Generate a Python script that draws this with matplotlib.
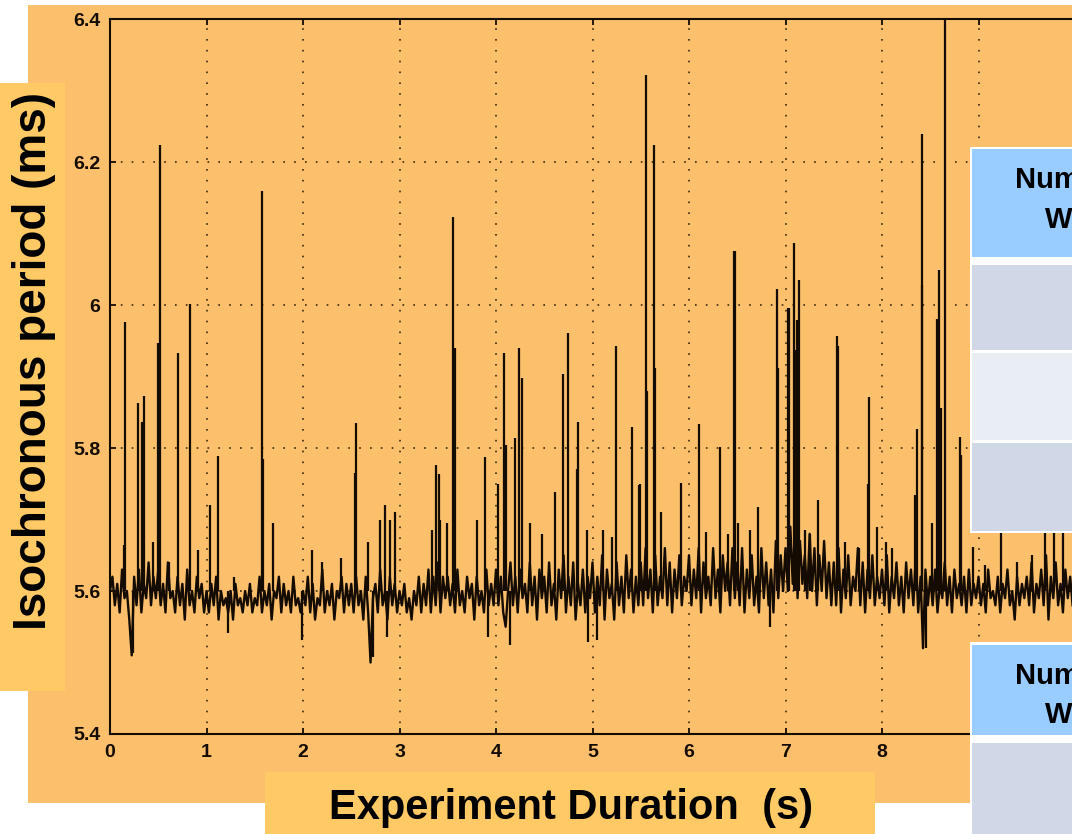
import numpy as np
import matplotlib.pyplot as plt
from matplotlib.patches import Rectangle

plt.rcParams['font.family'] = ['Liberation Sans', 'DejaVu Sans']

# isochronous period baseline, one sample every 25 ms (0 .. 9.975 s)
base_step = 0.025
base_ms = [
    5.60, 5.62, 5.58, 5.61, 5.57, 5.63, 5.59, 5.60, 5.56, 5.51, 5.62, 5.58, 5.63, 5.57, 5.61, 5.59, 5.64, 5.58, 5.62, 5.59,
    5.63, 5.58, 5.61, 5.57, 5.64, 5.59, 5.60, 5.57, 5.62, 5.58, 5.61, 5.56, 5.63, 5.58, 5.60, 5.57, 5.62, 5.59, 5.61, 5.57,
    5.60, 5.57, 5.61, 5.58, 5.62, 5.56, 5.60, 5.58, 5.59, 5.57, 5.60, 5.56, 5.61, 5.58, 5.59, 5.57, 5.60, 5.58, 5.61, 5.57,
    5.59, 5.58, 5.62, 5.57, 5.60, 5.58, 5.61, 5.56, 5.60, 5.59, 5.62, 5.57, 5.61, 5.58, 5.60, 5.57, 5.62, 5.58, 5.59, 5.57,
    5.60, 5.58, 5.62, 5.57, 5.61, 5.56, 5.59, 5.58, 5.63, 5.57, 5.60, 5.58, 5.61, 5.56, 5.60, 5.59, 5.62, 5.57, 5.61, 5.58,
    5.61, 5.57, 5.62, 5.58, 5.60, 5.56, 5.62, 5.57, 5.50, 5.59, 5.61, 5.57, 5.63, 5.58, 5.60, 5.56, 5.62, 5.58, 5.61, 5.57,
    5.60, 5.58, 5.61, 5.57, 5.59, 5.56, 5.60, 5.58, 5.62, 5.57, 5.61, 5.58, 5.63, 5.57, 5.62, 5.58, 5.64, 5.57, 5.62, 5.59,
    5.62, 5.58, 5.61, 5.57, 5.63, 5.58, 5.60, 5.57, 5.62, 5.59, 5.61, 5.56, 5.62, 5.58, 5.60, 5.57, 5.63, 5.58, 5.61, 5.58,
    5.63, 5.58, 5.62, 5.57, 5.55, 5.60, 5.64, 5.58, 5.62, 5.57, 5.63, 5.59, 5.61, 5.57, 5.64, 5.58, 5.62, 5.56, 5.63, 5.59,
    5.62, 5.57, 5.64, 5.58, 5.61, 5.56, 5.63, 5.59, 5.65, 5.57, 5.62, 5.58, 5.64, 5.56, 5.61, 5.58, 5.63, 5.57, 5.62, 5.59,
    5.64, 5.57, 5.62, 5.58, 5.65, 5.56, 5.63, 5.59, 5.61, 5.56, 5.64, 5.58, 5.62, 5.57, 5.65, 5.59, 5.63, 5.57, 5.62, 5.58,
    5.64, 5.58, 5.66, 5.59, 5.63, 5.57, 5.65, 5.58, 5.62, 5.59, 5.66, 5.58, 5.64, 5.57, 5.63, 5.59, 5.65, 5.58, 5.62, 5.60,
    5.65, 5.58, 5.63, 5.59, 5.66, 5.57, 5.64, 5.59, 5.62, 5.58, 5.66, 5.59, 5.63, 5.57, 5.65, 5.60, 5.64, 5.58, 5.66, 5.59,
    5.64, 5.58, 5.66, 5.57, 5.63, 5.59, 5.65, 5.58, 5.62, 5.57, 5.66, 5.59, 5.64, 5.58, 5.63, 5.57, 5.67, 5.59, 5.65, 5.60,
    5.66, 5.60, 5.69, 5.61, 5.70, 5.59, 5.67, 5.61, 5.65, 5.59, 5.68, 5.60, 5.66, 5.58, 5.65, 5.60, 5.67, 5.59, 5.64, 5.58,
    5.64, 5.58, 5.66, 5.57, 5.63, 5.59, 5.65, 5.58, 5.62, 5.60, 5.66, 5.58, 5.64, 5.57, 5.63, 5.59, 5.65, 5.58, 5.62, 5.59,
    5.63, 5.58, 5.65, 5.57, 5.62, 5.59, 5.64, 5.58, 5.62, 5.57, 5.64, 5.59, 5.63, 5.58, 5.65, 5.57, 5.62, 5.52, 5.63, 5.58,
    5.62, 5.58, 5.63, 5.57, 5.61, 5.59, 5.64, 5.58, 5.62, 5.57, 5.63, 5.59, 5.61, 5.58, 5.62, 5.57, 5.63, 5.58, 5.61, 5.59,
    5.62, 5.58, 5.61, 5.57, 5.63, 5.59, 5.60, 5.58, 5.62, 5.57, 5.61, 5.59, 5.63, 5.58, 5.60, 5.56, 5.62, 5.58, 5.61, 5.59,
    5.62, 5.58, 5.64, 5.57, 5.61, 5.59, 5.63, 5.58, 5.65, 5.56, 5.62, 5.59, 5.64, 5.58, 5.61, 5.57, 5.63, 5.59, 5.62, 5.58,
]

# upward spikes: time (s) and peak period (ms)
spike_t = [0.14, 0.155, 0.29, 0.335, 0.355, 0.45, 0.50, 0.518, 0.61, 0.708, 0.829, 0.91,
           1.036, 1.116, 1.28, 1.579, 1.59, 1.69, 2.09, 2.20, 2.39, 2.54, 2.549, 2.67,
           2.80, 2.85, 2.90, 2.95, 3.34, 3.375, 3.41, 3.42, 3.49, 3.558, 3.57, 3.80,
           3.886, 4.02, 4.083, 4.10, 4.197, 4.238, 4.273, 4.35, 4.48, 4.61, 4.69, 4.75,
           4.84, 4.853, 4.94, 5.11, 5.20, 5.24, 5.406, 5.48, 5.49, 5.554, 5.56, 5.637,
           5.65, 5.71, 5.914, 6.104, 6.18, 6.321, 6.40, 6.466, 6.472, 6.51, 6.63, 6.72,
           6.909, 6.92, 7.029, 7.035, 7.088, 7.10, 7.105, 7.12, 7.143, 7.20, 7.25, 7.34,
           7.537, 7.545, 7.62, 7.76, 7.85, 7.869, 7.95, 8.04, 8.10, 8.34, 8.359, 8.41,
           8.418, 8.52, 8.573, 8.594, 8.615, 8.653, 8.808, 8.815, 8.94, 9.07, 9.23, 9.40,
           9.55, 9.69, 9.78, 9.88]
spike_v = [5.664, 5.976, 5.863, 5.837, 5.873, 5.668, 5.947, 6.224, 5.64, 5.933, 6.001, 5.657,
           5.72, 5.789, 5.62, 6.159, 5.785, 5.695, 5.657, 5.64, 5.646, 5.765, 5.835, 5.668,
           5.70, 5.72, 5.70, 5.71, 5.685, 5.776, 5.764, 5.70, 5.695, 6.123, 5.94, 5.70,
           5.787, 5.75, 5.933, 5.804, 5.814, 5.940, 5.898, 5.695, 5.68, 5.738, 5.903, 5.961,
           5.77, 5.836, 5.685, 5.685, 5.676, 5.943, 5.829, 5.748, 5.75, 6.322, 5.88, 6.224,
           5.912, 5.71, 5.751, 5.834, 5.683, 5.802, 5.68, 6.076, 6.076, 5.695, 5.685, 5.717,
           6.022, 5.912, 5.996, 5.996, 6.087, 5.937, 5.937, 5.979, 6.035, 5.685, 5.68, 5.727,
           5.956, 5.943, 5.668, 5.66, 5.75, 5.872, 5.69, 5.668, 5.66, 5.734, 5.827, 6.028,
           6.239, 5.695, 5.98, 6.049, 5.856, 6.45, 5.816, 5.79, 5.662, 5.636, 5.75, 5.64,
           5.65, 5.85, 5.85, 5.85]
spike_base = 5.60

# downward dips: time (s) and lowest period (ms)
dip_t = [0.24, 1.22, 1.99, 2.73, 2.87, 3.92, 4.15, 4.95, 5.05, 6.84, 8.46]
dip_v = [5.513, 5.541, 5.532, 5.508, 5.536, 5.536, 5.525, 5.529, 5.531, 5.55, 5.52]

xticks = list(range(0, 10))
yticks = [5.4, 5.6, 5.8, 6.0, 6.2, 6.4]
ytick_labels = ['5.4', '5.6', '5.8', '6', '6.2', '6.4']

W, H = 1072, 834
orange = '#fcc06c'
label_bg = '#ffc965'
ink = '#140b02'

fig = plt.figure(figsize=(W / 100, H / 100), dpi=100, facecolor='white')


def box(x0, y0, x1, y1, color, z):
    # rectangle given in picture pixels (origin top-left)
    r = Rectangle((x0 / W, 1 - y1 / H), (x1 - x0) / W, (y1 - y0) / H,
                  transform=fig.transFigure, facecolor=color, edgecolor='none', zorder=z)
    fig.add_artist(r)


# slide background and label boxes
box(28, 5, 1072, 803, orange, -5)
box(0, 83, 65, 691, label_bg, -4)
box(265, 772, 875, 834, label_bg, -4)

ax = fig.add_axes([110 / W, 1 - 734 / H, 965 / W, 715 / H])
ax.set_facecolor('none')

base_t = np.arange(len(base_ms)) * base_step
ax.plot(base_t, base_ms, color=ink, lw=1.7)
ax.vlines(spike_t, spike_base, spike_v, color=ink, lw=1.6)
ax.vlines(dip_t, dip_v, spike_base, color=ink, lw=1.6)

ax.set_xlim(0, 10)
ax.set_ylim(5.4, 6.4)
ax.set_xticks(xticks)
ax.set_yticks(yticks)
ax.set_yticklabels(ytick_labels)
ax.grid(True, color='#3a2810', linestyle=(0, (1, 5.5)), lw=1.2)
ax.tick_params(direction='in', length=4, width=1.3, color=ink, top=True, right=True,
               labelsize=14, labelcolor=ink, pad=7)
for lab in ax.get_xticklabels() + ax.get_yticklabels():
    lab.set_fontweight('bold')
for sp in ax.spines.values():
    sp.set_color(ink)
    sp.set_linewidth(1.5)

fig.text(571 / W, 1 - 808 / H, 'Experiment Duration  (s)', ha='center', va='center',
         fontsize=30, fontweight='bold', color='black')
fig.text(34 / W, 1 - 361 / H, 'Isochronous period (ms)', rotation=90, ha='center',
         va='center', fontsize=33, fontweight='bold', color='black')

# tables on the right edge of the slide (cut off by the picture edge)
box(970, 147, 1072, 533, 'white', 10)
box(972, 149, 1072, 257, '#99ccff', 11)
box(972, 265, 1072, 350, '#d0d8e8', 11)
box(972, 353, 1072, 440, '#e9edf4', 11)
box(972, 443, 1072, 531, '#d0d8e8', 11)
box(970, 642, 1072, 834, 'white', 10)
box(972, 645, 1072, 735, '#99ccff', 11)
box(972, 743, 1072, 834, '#d0d8e8', 11)
for y1, y2 in [(180, 220), (676, 715)]:
    fig.text(1015 / W, 1 - y1 / H, 'Num', ha='left', va='center', fontsize=21,
             fontweight='bold', color='black', zorder=12)
    fig.text(1045 / W, 1 - y2 / H, 'W', ha='left', va='center', fontsize=21,
             fontweight='bold', color='black', zorder=12)

fig.savefig('out.png', dpi=100, facecolor='white')
